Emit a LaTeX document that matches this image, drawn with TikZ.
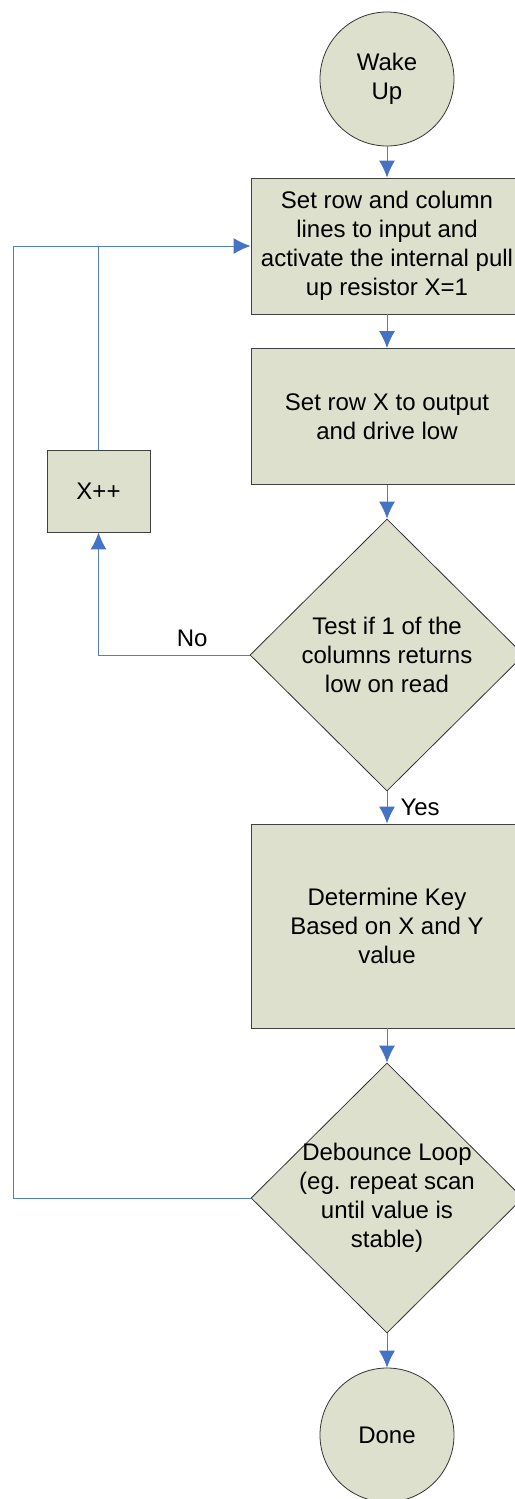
\documentclass[tikz,border=0pt]{standalone}
\usepackage{fontspec}
\setmainfont{Liberation Sans}
\usetikzlibrary{shapes.geometric}
\usetikzlibrary{arrows.meta}
\definecolor{boxfill}{RGB}{221,224,204}
\definecolor{flowblue}{RGB}{79,129,189}
\definecolor{tipblue}{RGB}{68,114,196}
\tikzstyle{every node}=[font=\fontsize{24}{29}\selectfont]
\tikzstyle{stepbox}=[rectangle, draw=black!75, line width=0.9pt, fill=boxfill, minimum width=272pt, align=center, inner sep=0pt]
\tikzstyle{terminal}=[circle, draw=black!80, line width=0.8pt, fill=boxfill, minimum size=134pt, align=center, inner sep=0pt]
\tikzstyle{decision}=[diamond, draw=black!80, line width=0.8pt, fill=boxfill, inner sep=0pt]
\tikzstyle{flow}=[draw=flowblue, line width=1pt]

\begin{document}
\begin{tikzpicture}[x=1pt, y=-1pt, >={Latex[length=17pt, width=16pt, color=tipblue]}]
            \useasboundingbox (0,0) rectangle (514,1499);
            \def\colx{387}

            \node [terminal] (wake) at (\colx, 79) {Wake\\Up};
            \node [stepbox, minimum height=136pt] (init) at (\colx, 246) {Set row and column\\lines to input and\\activate the internal pull\\up resistor X=1};
            \node [stepbox, minimum height=136pt] (rowx) at (\colx, 416.5) {Set row X to output\\and drive low};
            \node [decision, minimum width=274pt, minimum height=272pt] (test) at (\colx, 655) {};
            \node (testtxt) at (test.center) [align=center] {Test if 1 of the\\columns returns\\low on read};
            \node [stepbox, minimum height=204pt] (keyb) at (\colx, 926) {Determine Key\\Based on X and Y\\value};
            \node [decision, minimum width=272pt, minimum height=270pt] (debounce) at (\colx, 1198) {};
            \node (debtxt) at (debounce.center) [align=center] {Debounce Loop\\(eg. repeat scan\\until value is\\stable)};
            \node [terminal] (done) at (\colx, 1435) {Done};
            \node [stepbox, minimum width=103pt, minimum height=82pt] (xpp) at (98.5, 491) {X++};

            \coordinate (loopc) at (13, 246);

            \draw [flow, ->] (wake) -- (init);
            \draw [flow, ->] (init) -- (rowx);
            \draw [flow, ->] (rowx) -- (test);
            \draw [flow, ->] (test) -- (keyb) node [midway, right=13pt, inner sep=0pt] (yes) {Yes};
            \draw [flow, ->] (keyb) -- (debounce);
            \draw [flow, ->] (debounce) -- (done);

            \draw [flow, ->] (test.west) -| (xpp.south) node [pos=0.19, above=8pt, inner sep=0pt] (no) {No};
            \draw [flow] (xpp.north) -- (xpp.north |- init.west);
            \draw [flow, ->] (debounce.west) -| (loopc) -- (init.west);
        \end{tikzpicture}
\end{document}
